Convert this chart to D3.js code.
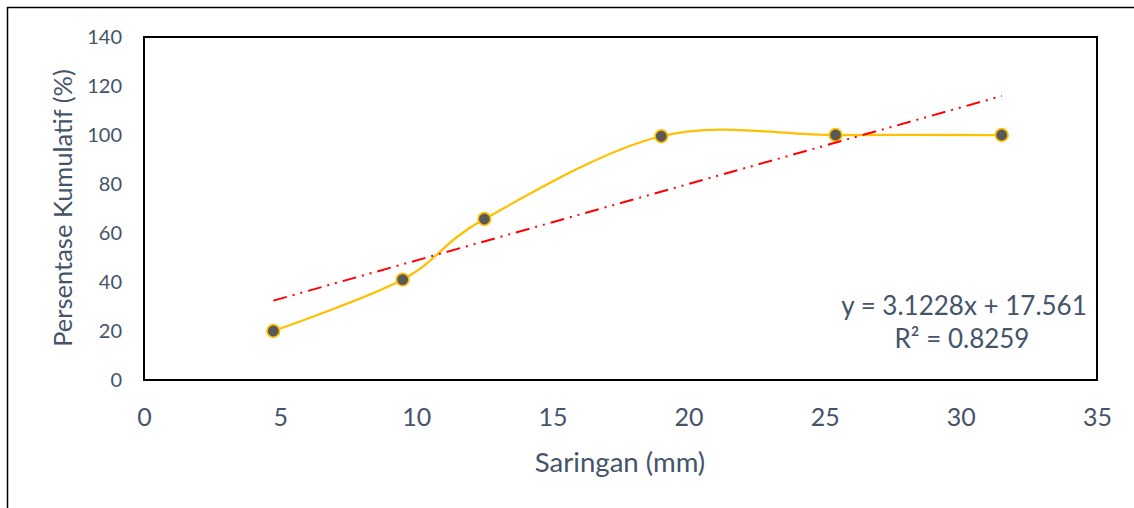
<!DOCTYPE html>
<html>
<head>
<meta charset="utf-8">
<script src="https://cdn.jsdelivr.net/npm/d3@7"></script>
<style>
  html, body { margin: 0; padding: 0; background: #fff; }
  svg { display: block; }
  text { font-family: Lato, "Open Sans", sans-serif; fill: #44546A; }
</style>
</head>
<body>
<svg id="chart" width="1134" height="508"></svg>
<script>
// ---- Data ----
const sieveSizes = [4.75, 9.5, 12.5, 19, 25.4, 31.5];           // Saringan (mm)
const cumulativePercent = [20, 41, 65.7, 99.5, 100, 100];        // Persentase Kumulatif (%)
const xTickValues = [0, 5, 10, 15, 20, 25, 30, 35];
const yTickValues = [0, 20, 40, 60, 80, 100, 120, 140];
const trendSlope = 3.1228;
const trendIntercept = 17.561;
const trendR2 = 0.8259;
const xTitle = "Saringan (mm)";
const yTitle = "Persentase Kumulatif (%)";

const W = 1134, H = 508;
const plot = { left: 144, right: 1097, top: 37, bottom: 380 };

const svg = d3.select("#chart");

// outer chart border (extends beyond the picture at right/bottom)
svg.append("rect")
  .attr("x", 7.5).attr("y", 7.5)
  .attr("width", W + 20).attr("height", H + 20)
  .attr("fill", "none").attr("stroke", "#000").attr("stroke-width", 1.5);

const x = d3.scaleLinear().domain([0, 35]).range([plot.left, plot.right]);
const y = d3.scaleLinear().domain([0, 140]).range([plot.bottom, plot.top]);

// plot area border
svg.append("rect")
  .attr("x", plot.left).attr("y", plot.top)
  .attr("width", plot.right - plot.left).attr("height", plot.bottom - plot.top)
  .attr("fill", "none").attr("stroke", "#000").attr("stroke-width", 2);

// axes (labels only)
const xAxis = d3.axisBottom(x).tickValues(xTickValues).tickSize(0).tickPadding(28).tickFormat(d3.format("d"));
const gx = svg.append("g").attr("transform", `translate(0,${plot.bottom})`).call(xAxis);
gx.select(".domain").remove();
gx.selectAll("text").attr("font-size", 25).attr("font-family", null).attr("fill", "#44546A");

const yAxis = d3.axisLeft(y).tickValues(yTickValues).tickSize(0).tickPadding(22).tickFormat(d3.format("d"));
const gy = svg.append("g").attr("transform", `translate(${plot.left},0)`).call(yAxis);
gy.select(".domain").remove();
gy.selectAll("text").attr("font-size", 20).attr("font-family", null).attr("fill", "#44546A");

// axis titles
svg.append("text")
  .attr("x", 620).attr("y", 472)
  .attr("text-anchor", "middle")
  .attr("font-size", 27.6)
  .text(xTitle);

svg.append("text")
  .attr("transform", `translate(72,208) rotate(-90)`)
  .attr("text-anchor", "middle")
  .attr("font-size", 25.5)
  .text(yTitle);

// data
const pts = sieveSizes.map((s, i) => ({ x: s, y: cumulativePercent[i] }));

// smoothed series line
const line = d3.line()
  .x(d => x(d.x)).y(d => y(d.y))
  .curve(d3.curveCardinal.tension(0));

svg.append("path")
  .datum(pts)
  .attr("d", line)
  .attr("fill", "none")
  .attr("stroke", "#FFC000")
  .attr("stroke-width", 2.25);

// markers
svg.append("g").selectAll("circle")
  .data(pts).join("circle")
  .attr("cx", d => x(d.x)).attr("cy", d => y(d.y))
  .attr("r", 6.3)
  .attr("fill", "#595959")
  .attr("stroke", "#FFC000")
  .attr("stroke-width", 1.75);

// linear trendline
const xMin = d3.min(sieveSizes), xMax = d3.max(sieveSizes);
const trendPts = [xMin, xMax].map(v => ({ x: v, y: trendSlope * v + trendIntercept }));
svg.append("path")
  .datum(trendPts)
  .attr("d", d3.line().x(d => x(d.x)).y(d => y(d.y)))
  .attr("fill", "none")
  .attr("stroke", "#FF0000")
  .attr("stroke-width", 2)
  .attr("stroke-dasharray", "14,6,2,6,2,6");

// equation label
const eq = svg.append("text")
  .attr("text-anchor", "middle")
  .attr("font-size", 26);
eq.append("tspan").attr("x", 964).attr("y", 315)
  .text(`y = ${trendSlope}x + ${trendIntercept}`);
eq.append("tspan").attr("x", 962).attr("y", 348)
  .text(`R² = ${trendR2}`);
</script>
</body>
</html>
